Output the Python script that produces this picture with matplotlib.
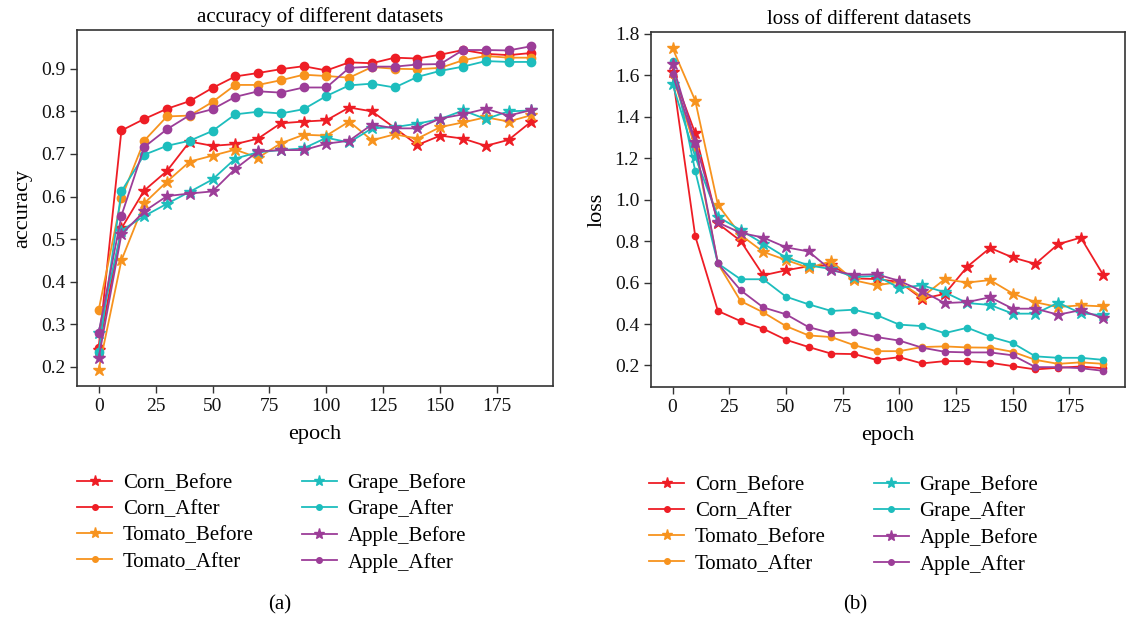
import matplotlib
matplotlib.use("Agg")
import matplotlib.pyplot as plt
from matplotlib.lines import Line2D

plt.rcParams['font.family'] = ['Liberation Serif', 'DejaVu Serif']

epochs = [0, 10, 20, 30, 40, 50, 60, 70, 80, 90, 100, 110, 120, 130, 140, 150, 160, 170, 180, 190]

series_names = ["Corn_Before", "Corn_After", "Tomato_Before", "Tomato_After",
                "Grape_Before", "Grape_After", "Apple_Before", "Apple_After"]

# accuracy
acc_corn_before = [0.24, 0.525, 0.614, 0.660, 0.729, 0.719, 0.723, 0.736, 0.772, 0.776,
                   0.779, 0.809, 0.800, 0.761, 0.721, 0.743, 0.736, 0.719, 0.733, 0.776]
acc_corn_after = [0.245, 0.755, 0.782, 0.806, 0.824, 0.855, 0.882, 0.890, 0.899, 0.906,
                  0.896, 0.915, 0.913, 0.926, 0.924, 0.933, 0.944, 0.935, 0.932, 0.937]
acc_tomato_before = [0.193, 0.450, 0.584, 0.635, 0.682, 0.696, 0.710, 0.691, 0.725, 0.745,
                     0.743, 0.776, 0.732, 0.746, 0.736, 0.763, 0.774, 0.786, 0.776, 0.791]
acc_tomato_after = [0.333, 0.596, 0.731, 0.788, 0.790, 0.822, 0.862, 0.862, 0.873, 0.886,
                    0.883, 0.879, 0.904, 0.900, 0.899, 0.902, 0.920, 0.930, 0.926, 0.926]
acc_grape_before = [0.28, 0.520, 0.554, 0.583, 0.611, 0.640, 0.689, 0.704, 0.709, 0.713,
                    0.738, 0.727, 0.760, 0.763, 0.771, 0.782, 0.802, 0.782, 0.800, 0.802]
acc_grape_after = [0.235, 0.612, 0.698, 0.719, 0.731, 0.754, 0.793, 0.799, 0.795, 0.805,
                   0.836, 0.861, 0.865, 0.856, 0.881, 0.895, 0.905, 0.918, 0.916, 0.916]
acc_apple_before = [0.22, 0.511, 0.565, 0.601, 0.607, 0.612, 0.665, 0.706, 0.709, 0.709,
                    0.724, 0.731, 0.769, 0.760, 0.760, 0.783, 0.793, 0.806, 0.790, 0.803]
acc_apple_after = [0.280, 0.555, 0.716, 0.758, 0.791, 0.805, 0.834, 0.847, 0.844, 0.856,
                   0.856, 0.902, 0.905, 0.905, 0.910, 0.911, 0.944, 0.944, 0.943, 0.953]

# loss
loss_corn_before = [1.615, 1.320, 0.885, 0.801, 0.635, 0.659, 0.679, 0.683, 0.620, 0.617,
                    0.603, 0.522, 0.545, 0.677, 0.767, 0.721, 0.690, 0.785, 0.817, 0.635]
loss_corn_after = [1.600, 0.824, 0.463, 0.414, 0.377, 0.324, 0.289, 0.257, 0.255, 0.227,
                   0.240, 0.210, 0.221, 0.221, 0.213, 0.197, 0.181, 0.189, 0.195, 0.186]
loss_tomato_before = [1.731, 1.478, 0.975, 0.830, 0.748, 0.709, 0.671, 0.703, 0.611, 0.587,
                      0.603, 0.530, 0.616, 0.600, 0.612, 0.547, 0.505, 0.482, 0.490, 0.485]
loss_tomato_after = [1.600, 1.250, 0.692, 0.511, 0.456, 0.390, 0.345, 0.337, 0.298, 0.269,
                     0.269, 0.289, 0.292, 0.287, 0.286, 0.266, 0.227, 0.208, 0.215, 0.208]
loss_grape_before = [1.557, 1.207, 0.918, 0.853, 0.788, 0.721, 0.683, 0.665, 0.627, 0.632,
                     0.574, 0.587, 0.553, 0.501, 0.492, 0.450, 0.450, 0.503, 0.452, 0.442]
loss_grape_after = [1.668, 1.138, 0.692, 0.616, 0.616, 0.532, 0.495, 0.463, 0.469, 0.443,
                    0.397, 0.390, 0.356, 0.382, 0.339, 0.308, 0.244, 0.237, 0.237, 0.227]
loss_apple_before = [1.654, 1.280, 0.890, 0.840, 0.817, 0.770, 0.750, 0.659, 0.637, 0.640,
                     0.608, 0.559, 0.501, 0.506, 0.529, 0.474, 0.474, 0.445, 0.467, 0.427]
loss_apple_after = [1.605, 1.270, 0.692, 0.563, 0.480, 0.447, 0.385, 0.356, 0.360, 0.337,
                    0.320, 0.286, 0.266, 0.263, 0.263, 0.249, 0.192, 0.192, 0.187, 0.174]

acc_data = [acc_corn_before, acc_corn_after, acc_tomato_before, acc_tomato_after,
            acc_grape_before, acc_grape_after, acc_apple_before, acc_apple_after]
loss_data = [loss_corn_before, loss_corn_after, loss_tomato_before, loss_tomato_after,
             loss_grape_before, loss_grape_after, loss_apple_before, loss_apple_after]

red = '#EE1D25'
orange = '#F7931E'
teal = '#1DBDBD'
purple = '#9C3D98'
colors = [red, red, orange, orange, teal, teal, purple, purple]
markers = ['*', 'o', '*', 'o', '*', 'o', '*', 'o']

W, H = 1126, 622
fig = plt.figure(figsize=(W / 100, H / 100), dpi=100)

def fx(px):
    return px / W

def fy(py):
    return 1 - py / H

ax1 = fig.add_axes([fx(77), fy(386), fx(553 - 77), (386 - 30) / H])
ax2 = fig.add_axes([fx(651), fy(387), fx(1125 - 651), (387 - 32) / H])

spine_color = '#333333'

def style(ax):
    for s in ax.spines.values():
        s.set_color(spine_color)
        s.set_linewidth(1.2)
    ax.tick_params(axis='both', direction='out', length=5, width=1.0,
                   color=spine_color, labelsize=14, labelcolor='#111111')
    ax.set_xticks([0, 25, 50, 75, 100, 125, 150, 175])

# accuracy panel
for name, vals, c, m in zip(series_names, acc_data, colors, markers):
    ms = 9 if m == '*' else 6
    ax1.plot(epochs, vals, color=c, marker=m, markersize=ms, linewidth=1.3, label=name)
style(ax1)
ax1.set_yticks([0.2, 0.3, 0.4, 0.5, 0.6, 0.7, 0.8, 0.9])
ax1.set_title("accuracy of different datasets", fontsize=15, pad=6, x=(320 - 77) / (553 - 77))
ax1.set_xlabel("epoch", fontsize=16, labelpad=7)
ax1.set_ylabel("accuracy", fontsize=16, labelpad=6)

# loss panel
for name, vals, c, m in zip(series_names, loss_data, colors, markers):
    ms = 9 if m == '*' else 4.5
    ax2.plot(epochs, vals, color=c, marker=m, markersize=ms, linewidth=1.3, label=name)
style(ax2)
ax2.set_yticks([0.2, 0.4, 0.6, 0.8, 1.0, 1.2, 1.4, 1.6, 1.8])
ax2.set_title("loss of different datasets", fontsize=15, pad=6, x=(869 - 651) / (1125 - 651))
ax2.set_xlabel("epoch", fontsize=16, labelpad=7)
ax2.set_ylabel("loss", fontsize=16, labelpad=6)

def add_legend(ax, x0, y0):
    handles, labels = ax.get_legend_handles_labels()
    hs = []
    for h in handles:
        m = h.get_marker()
        hs.append(Line2D([], [], color=h.get_color(), marker=m,
                         markersize=8 if m == '*' else 4, linewidth=1.3))
    ax.legend(hs, labels, ncol=2, loc='upper left', frameon=False,
              bbox_to_anchor=(fx(x0), fy(y0)), bbox_transform=fig.transFigure,
              fontsize=15, handlelength=1.7, handletextpad=0.5,
              columnspacing=2.3, labelspacing=0.32, borderpad=0, borderaxespad=0)

add_legend(ax1, 77, 473)
add_legend(ax2, 649, 475)

fig.text(fx(280), fy(605), "(a)", ha='center', va='center', fontsize=15)
fig.text(fx(855), fy(605), "(b)", ha='center', va='center', fontsize=15)

fig.savefig("out.png", dpi=100)
